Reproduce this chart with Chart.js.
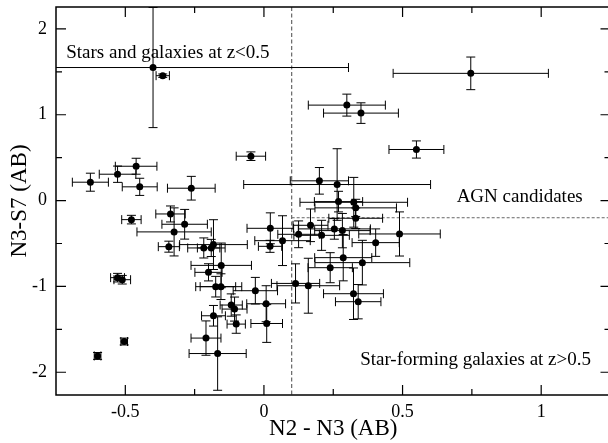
<!DOCTYPE html>
<html>
<head>
<meta charset="utf-8">
<script src="https://cdn.jsdelivr.net/npm/chart.js@4.4.0/dist/chart.umd.min.js"></script>
<style>
  html, body { margin: 0; padding: 0; background: #fff; overflow: hidden; }
  #wrap { width: 614px; height: 443px; }
</style>
</head>
<body>
<div id="wrap"><canvas id="colourPlot" width="614" height="443"></canvas></div>
<script>
// colour-colour data: N2-N3 vs N3-S7 with 1-sigma errors
const n2n3 = [
  -0.400, -0.365, -0.047, -0.626, -0.528, -0.461, -0.448, -0.262, 0.200, 0.264,
   0.746,  0.299,  0.350,  0.550, -0.478, -0.528, -0.511, -0.504, -0.600, -0.337,
  -0.324, -0.286, -0.343, -0.217, -0.190, -0.182, -0.154, -0.200, -0.174, -0.155,
  -0.031,  0.008,  0.010, -0.118, -0.106, -0.100, -0.182, -0.209, -0.167,  0.023,
   0.022,  0.067,  0.114,  0.160,  0.239,  0.286,  0.355,  0.323,  0.340,  0.403,
   0.125,  0.168,  0.208,  0.254,  0.283,  0.331,  0.331,  0.324,  0.269,  0.489
];
const n3s7 = [
   1.550,  1.455,  0.517,  0.214,  0.307,  0.400,  0.160,  0.144,  0.230,  0.187,
   1.482,  1.112,  1.019,  0.595, -0.222, -0.898, -0.922, -1.642, -1.810, -0.156,
  -0.365, -0.276, -0.537, -0.552, -0.552, -0.513, -0.755, -0.836, -1.003, -1.003,
  -1.050, -1.202, -1.432, -1.217, -1.264, -1.439, -1.342, -1.602, -1.782, -0.323,
  -0.533, -0.467, -0.965, -0.992, -0.782, -0.665, -0.723, -1.085, -1.178, -0.490,
  -0.393, -0.288, -0.405, -0.330, -0.350, -0.206, -0.085, -0.020, -0.012, -0.389
];
const n2n3Err = [
  0.705, 0.024, 0.053, 0.065, 0.066, 0.075, 0.063, 0.086, 0.105, 0.337,
  0.280, 0.139, 0.135, 0.099, 0.035, 0.025, 0.030, 0.012, 0.012, 0.053,
  0.134, 0.082, 0.038, 0.058, 0.050, 0.122, 0.109, 0.049, 0.072, 0.075,
  0.080, 0.070, 0.057, 0.040, 0.045, 0.033, 0.043, 0.054, 0.103, 0.084,
  0.042, 0.100, 0.087, 0.113, 0.080, 0.103, 0.171, 0.108, 0.082, 0.085,
  0.075, 0.063, 0.100, 0.130, 0.100, 0.097, 0.147, 0.194, 0.087, 0.147
];
const n3s7Err = [
  0.700, 0.020, 0.050, 0.105, 0.095, 0.093, 0.100, 0.138, 0.155, 0.417,
  0.190, 0.128, 0.120, 0.100, 0.050, 0.050, 0.050, 0.040, 0.040, 0.093,
  0.280, 0.173, 0.064, 0.117, 0.100, 0.290, 0.260, 0.100, 0.120, 0.150,
  0.155, 0.210, 0.220, 0.130, 0.140, 0.107, 0.120, 0.200, 0.428, 0.180,
  0.070, 0.290, 0.228, 0.320, 0.175, 0.270, 0.260, 0.300, 0.200, 0.160,
  0.156, 0.190, 0.175, 0.120, 0.200, 0.120, 0.100, 0.290, 0.120, 0.257
];

const xTicks = [-0.5, 0, 0.5, 1];
const xMinorTicks = [-0.25, 0.25, 0.75];
const yTicks = [-2, -1, 0, 1, 2];
const yMinorTicks = [-1.5, -0.5, 0.5, 1.5];

// dividing lines between the regions
const agnColourCut = 0.1;
const agnN3S7Cut = -0.2;

const regionLabels = [
  { text: 'Stars and galaxies at z<0.5', x: -0.713, y: 1.66 },
  { text: 'AGN candidates', x: 0.695, y: -0.017 },
  { text: 'Star-forming galaxies at z>0.5', x: 0.347, y: -1.918 }
];

const serif = "'Liberation Serif', 'Times New Roman', serif";

const errorBars = {
  id: 'errorBars',
  beforeDatasetsDraw(chart) {
    const { ctx, chartArea: a, scales: { x, y } } = chart;
    ctx.save();
    ctx.beginPath();
    ctx.rect(a.left, a.top, a.right - a.left, a.bottom - a.top);
    ctx.clip();

    // region boundaries
    ctx.strokeStyle = '#666';
    ctx.lineWidth = 1.2;
    ctx.setLineDash([4, 2.5]);
    ctx.beginPath();
    ctx.moveTo(x.getPixelForValue(agnColourCut), a.top);
    ctx.lineTo(x.getPixelForValue(agnColourCut), a.bottom);
    ctx.stroke();
    ctx.lineWidth = 1;
    ctx.setLineDash([3, 2]);
    ctx.beginPath();
    ctx.moveTo(x.getPixelForValue(agnColourCut), y.getPixelForValue(agnN3S7Cut));
    ctx.lineTo(a.right, y.getPixelForValue(agnN3S7Cut));
    ctx.stroke();
    ctx.setLineDash([]);

    const cap = 4.5;
    ctx.strokeStyle = '#000';
    ctx.lineWidth = 1;
    n2n3.forEach((xv, i) => {
      const px = x.getPixelForValue(xv);
      const py = y.getPixelForValue(n3s7[i]);
      const x0 = x.getPixelForValue(xv - n2n3Err[i]);
      const x1 = x.getPixelForValue(xv + n2n3Err[i]);
      const y0 = y.getPixelForValue(n3s7[i] - n3s7Err[i]);
      const y1 = y.getPixelForValue(n3s7[i] + n3s7Err[i]);
      ctx.beginPath();
      ctx.moveTo(x0, py); ctx.lineTo(x1, py);
      ctx.moveTo(x0, py - cap); ctx.lineTo(x0, py + cap);
      ctx.moveTo(x1, py - cap); ctx.lineTo(x1, py + cap);
      ctx.moveTo(px, y0); ctx.lineTo(px, y1);
      ctx.moveTo(px - cap, y0); ctx.lineTo(px + cap, y0);
      ctx.moveTo(px - cap, y1); ctx.lineTo(px + cap, y1);
      ctx.stroke();
    });
    ctx.restore();
  }
};

const frameAndLabels = {
  id: 'frameAndLabels',
  afterDraw(chart) {
    const { ctx, chartArea: a, scales: { x, y } } = chart;
    ctx.save();
    ctx.strokeStyle = '#000';
    ctx.lineWidth = 1.5;
    ctx.strokeRect(a.left, a.top, a.right - a.left, a.bottom - a.top);

    // inward ticks on all four sides
    const tick = (len, vals, horiz) => {
      ctx.beginPath();
      vals.forEach(v => {
        if (horiz) {
          const p = x.getPixelForValue(v);
          ctx.moveTo(p, a.bottom); ctx.lineTo(p, a.bottom - len);
          ctx.moveTo(p, a.top); ctx.lineTo(p, a.top + len);
        } else {
          const p = y.getPixelForValue(v);
          ctx.moveTo(a.left, p); ctx.lineTo(a.left + len, p);
          ctx.moveTo(a.right, p); ctx.lineTo(a.right - len, p);
        }
      });
      ctx.stroke();
    };
    ctx.lineWidth = 1.2;
    tick(10, xTicks, true);
    tick(6, xMinorTicks, true);
    tick(10, yTicks, false);
    tick(6, yMinorTicks, false);

    ctx.fillStyle = '#000';
    ctx.font = '19px ' + serif;
    ctx.textBaseline = 'alphabetic';
    ctx.textAlign = 'left';
    regionLabels.forEach(l => {
      ctx.fillText(l.text, x.getPixelForValue(l.x), y.getPixelForValue(l.y));
    });
    ctx.restore();
  }
};

new Chart(document.getElementById('colourPlot'), {
  type: 'scatter',
  data: {
    datasets: [{
      data: n2n3.map((v, i) => ({ x: v, y: n3s7[i] })),
      pointRadius: 3.5,
      pointBackgroundColor: '#000',
      pointBorderWidth: 0,
      pointHoverRadius: 3.5
    }]
  },
  options: {
    responsive: false,
    animation: false,
    events: [],
    layout: { padding: { top: 7, right: 1, left: 0, bottom: 0 } },
    plugins: { legend: { display: false }, tooltip: { enabled: false } },
    scales: {
      x: {
        type: 'linear',
        min: -0.75,
        max: 1.25,
        grid: { display: false, drawTicks: false },
        border: { display: false },
        afterBuildTicks: s => { s.ticks = xTicks.map(v => ({ value: v })); },
        afterFit: s => { s.height = 48; s.paddingLeft = 0; s.paddingRight = 0; },
        ticks: {
          color: '#000',
          padding: 6,
          maxRotation: 0,
          font: { family: serif, size: 18 },
          callback: v => String(v)
        },
        title: {
          display: true,
          text: 'N2 - N3 (AB)',
          color: '#000',
          font: { family: serif, size: 23 },
          padding: { top: 1, bottom: 0 }
        }
      },
      y: {
        type: 'linear',
        min: -2.265,
        max: 2.255,
        grid: { display: false, drawTicks: false },
        border: { display: false },
        afterBuildTicks: s => { s.ticks = yTicks.map(v => ({ value: v })); },
        afterFit: s => { s.width = 56; s.paddingTop = 0; s.paddingBottom = 0; },
        ticks: {
          color: '#000',
          padding: 9,
          font: { family: serif, size: 18 },
          callback: v => String(v)
        },
        title: {
          display: true,
          text: 'N3-S7 (AB)',
          color: '#000',
          font: { family: serif, size: 23 },
          padding: { top: 6, bottom: 0 }
        }
      }
    }
  },
  plugins: [errorBars, frameAndLabels]
});
</script>
</body>
</html>
